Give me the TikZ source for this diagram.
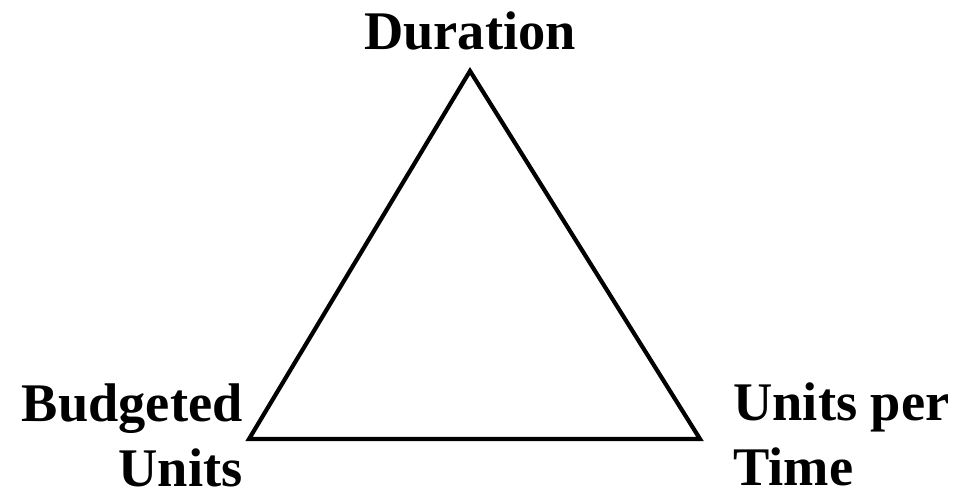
\documentclass[tikz,border=0pt]{standalone}
\usepackage{fontspec}
\setmainfont{Liberation Serif}
\begin{document}
\begin{tikzpicture}[x=0.5pt,y=-0.5pt,
  lbl/.style={font=\fontsize{27.2}{32.5}\selectfont\bfseries, inner sep=0pt},
  edge/.style={line width=2.1pt, line join=miter}]
\useasboundingbox (0,0) rectangle (963,496);
\coordinate (top) at (470,71);
\coordinate (bl) at (249,439);
\coordinate (br) at (700,439);
\draw[edge] (top) -- (bl) -- (br) -- cycle;
\node[lbl, anchor=base] (dur) at (470,50) {Duration};
\node[lbl, anchor=north east, align=right] (bud) at (243,383) {Budgeted\\Units};
\node[lbl, anchor=north west, align=left] (upt) at (733,382) {Units per\\Time};
\end{tikzpicture}
\end{document}
